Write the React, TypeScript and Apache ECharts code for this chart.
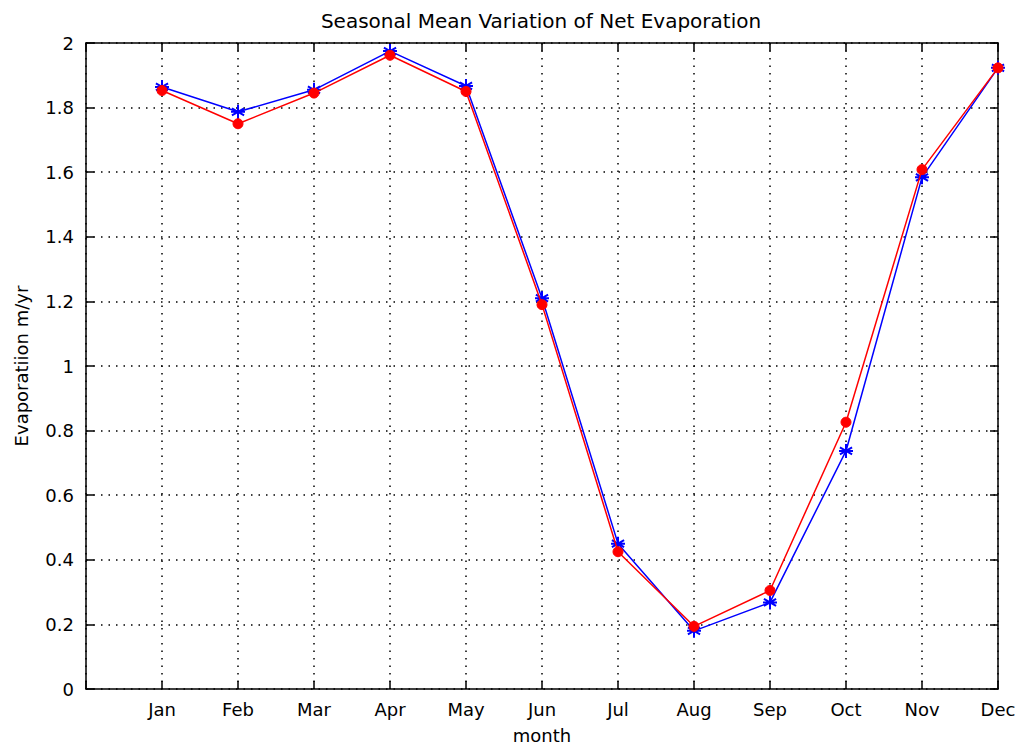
import React, { useEffect, useRef } from "react";
import * as echarts from "echarts";

const months = ["Jan", "Feb", "Mar", "Apr", "May", "Jun", "Jul", "Aug", "Sep", "Oct", "Nov", "Dec"];
const blueValues = [1.864, 1.787, 1.855, 1.975, 1.867, 1.21, 0.45, 0.18, 0.268, 0.737, 1.584, 1.923];
const redValues = [1.853, 1.75, 1.845, 1.962, 1.85, 1.19, 0.425, 0.194, 0.305, 0.826, 1.608, 1.923];
const yTicks = [0, 0.2, 0.4, 0.6, 0.8, 1, 1.2, 1.4, 1.6, 1.8, 2];

const asterisk = "path://M0,-10L0,10M-8.7,-5L8.7,5M-8.7,5L8.7,-5M-10,0L10,0";

export default function App() {
  const ref = useRef<HTMLDivElement>(null);
  useEffect(() => {
    const chart = echarts.init(ref.current!, null, { renderer: "svg" });
    const font = "'DejaVu Sans', Arial, sans-serif";
    const axisLine = { show: true, lineStyle: { color: "#000", width: 1.5 } };
    const tick = { show: true, inside: true, length: 8, lineStyle: { color: "#000", width: 1.5 } };
    const gridDotted = { show: true, lineStyle: { color: "#000", type: [1.5, 6] as any, width: 1.5 } };
    chart.setOption({
      animation: false,
      backgroundColor: "#fff",
      title: {
        text: "Seasonal Mean Variation of Net Evaporation",
        left: 536,
        textAlign: "center",
        top: 6,
        textStyle: { fontFamily: font, fontSize: 20, fontWeight: "normal", color: "#000" },
      },
      grid: { left: 86, right: 23, top: 43, bottom: 57 },
      xAxis: [
        {
          type: "value",
          min: 0,
          max: 12,
          interval: 1,
          axisLine: { ...axisLine, onZero: false },
          axisTick: tick,
          axisLabel: {
            fontFamily: font,
            fontSize: 18,
            color: "#000",
            margin: 11,
            showMaxLabel: true,
            formatter: (v: number) => (v >= 1 && v <= 12 ? months[Math.round(v) - 1] : ""),
          },
          splitLine: gridDotted,
          name: "month",
          nameLocation: "middle",
          nameGap: 37,
          nameTextStyle: { fontFamily: font, fontSize: 18, color: "#000" },
        },
        {
          type: "value",
          position: "top",
          min: 0,
          max: 12,
          interval: 1,
          axisLine: { ...axisLine, onZero: false },
          axisTick: tick,
          axisLabel: { show: false },
          splitLine: { show: false },
        },
      ],
      yAxis: [
        {
          type: "value",
          min: 0,
          max: 2,
          interval: 0.2,
          axisLine: { ...axisLine, onZero: false },
          axisTick: tick,
          axisLabel: {
            fontFamily: font,
            fontSize: 18,
            color: "#000",
            margin: 12,
            formatter: (v: number) => {
              const t = yTicks.find((x) => Math.abs(x - v) < 1e-6);
              return String(t !== undefined ? t : v);
            },
          },
          splitLine: gridDotted,
          name: "Evaporatiion m/yr",
          nameLocation: "middle",
          nameGap: 56,
          nameRotate: 90,
          nameTextStyle: { fontFamily: font, fontSize: 18, color: "#000" },
        },
        {
          type: "value",
          position: "right",
          min: 0,
          max: 2,
          interval: 0.2,
          axisLine: { ...axisLine, onZero: false },
          axisTick: tick,
          axisLabel: { show: false },
          splitLine: { show: false },
        },
      ],
      series: [
        {
          type: "line",
          data: blueValues.map((v, i) => [i + 1, v]),
          symbol: asterisk,
          symbolSize: 14,
          showAllSymbol: true,
          lineStyle: { color: "#0000ff", width: 1.5 },
          itemStyle: { color: "#0000ff", borderColor: "#0000ff", borderWidth: 2 },
          z: 2,
        },
        {
          type: "line",
          data: redValues.map((v, i) => [i + 1, v]),
          symbol: "circle",
          symbolSize: 10,
          showAllSymbol: true,
          lineStyle: { color: "#ff0000", width: 1.5 },
          itemStyle: { color: "#ff0000", borderColor: "#ff0000", borderWidth: 1 },
          z: 3,
        },
      ],
    });
    return () => chart.dispose();
  }, []);
  return (
    <div
      ref={ref}
      style={{ position: "fixed", left: 0, top: 0, width: 1021, height: 749 }}
    />
  );
}
